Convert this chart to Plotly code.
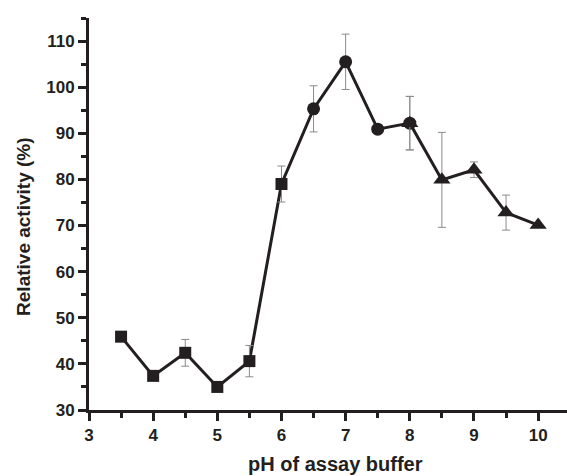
import plotly.graph_objects as go

ph_all = [3.5, 4.0, 4.5, 5.0, 5.5, 6.0, 6.5, 7.0, 7.5, 8.0, 8.5, 9.0, 9.5, 10.0]
act_all = [45.9, 37.4, 42.4, 35.0, 40.6, 79.0, 95.3, 105.5, 90.9, 92.2, 79.9, 82.1, 72.8, 70.1]

ph_sq = [3.5, 4.0, 4.5, 5.0, 5.5, 6.0]
act_sq = [45.9, 37.4, 42.4, 35.0, 40.6, 79.0]
err_sq = [0.3, 0.6, 2.9, 0.9, 3.4, 3.9]

ph_ci = [6.5, 7.0, 7.5, 8.0]
act_ci = [95.3, 105.5, 90.9, 92.2]
err_ci = [5.0, 6.0, 0.3, 5.8]

ph_tr = [8.0, 8.5, 9.0, 9.5, 10.0]
act_tr = [92.2, 79.9, 82.1, 72.8, 70.1]
err_tr = [5.8, 10.3, 1.7, 3.8, 0.3]

x_title = "pH of assay buffer"
y_title = "Relative activity (%)"

dark = "#231f20"
errc = "#8a8a8a"
fam = "Liberation Sans, Arial, sans-serif"

fig = go.Figure()
fig.add_trace(go.Scatter(x=ph_all, y=act_all, mode="lines",
                         line=dict(color=dark, width=3), showlegend=False, hoverinfo="skip"))

def add_markers(x, y, e, sym, size):
    fig.add_trace(go.Scatter(
        x=x, y=y, mode="markers",
        marker=dict(symbol=sym, size=size, color=dark, line=dict(width=0)),
        error_y=dict(type="data", array=e, visible=True, color=errc, thickness=1, width=4),
        showlegend=False))

add_markers(ph_sq, act_sq, err_sq, "square", 12)
add_markers(ph_ci, act_ci, err_ci, "circle", 13)
add_markers(ph_tr, act_tr, err_tr, "triangle-up", 15)

tickfont = dict(family=fam, size=17, color=dark, weight="bold")

fig.update_layout(
    width=567, height=476,
    margin=dict(l=89, r=0, t=18, b=66),
    plot_bgcolor="white", paper_bgcolor="white",
    font=dict(family=fam, size=16, color=dark),
    xaxis=dict(range=[3, 10.45], tickvals=[3, 4, 5, 6, 7, 8, 9, 10],
               ticks="outside", ticklen=8, tickwidth=3, tickcolor=dark,
               minor=dict(tickvals=[3.5, 4.5, 5.5, 6.5, 7.5, 8.5, 9.5], ticks="outside",
                          ticklen=5, tickwidth=3, tickcolor=dark),
               showline=True, linecolor=dark, linewidth=3, showgrid=False, zeroline=False,
               tickfont=tickfont),
    yaxis=dict(range=[30, 115], tickvals=[30, 40, 50, 60, 70, 80, 90, 100, 110],
               ticks="outside", ticklen=8, tickwidth=3, tickcolor=dark,
               minor=dict(tickvals=[35, 45, 55, 65, 75, 85, 95, 105, 115], ticks="outside",
                          ticklen=5, tickwidth=3, tickcolor=dark),
               showline=True, linecolor=dark, linewidth=3, showgrid=False, zeroline=False,
               tickfont=tickfont),
    annotations=[
        dict(text="<b>" + x_title + "</b>", xref="paper", yref="paper", x=0.515, y=-0.138,
             xanchor="center", yanchor="middle", showarrow=False,
             font=dict(family=fam, size=20, color=dark)),
        dict(text="<b>" + y_title + "</b>", xref="paper", yref="paper", x=-0.136, y=0.467,
             xanchor="center", yanchor="middle", showarrow=False, textangle=-90,
             font=dict(family=fam, size=19, color=dark)),
    ],
)

fig.write_html("out.html")
